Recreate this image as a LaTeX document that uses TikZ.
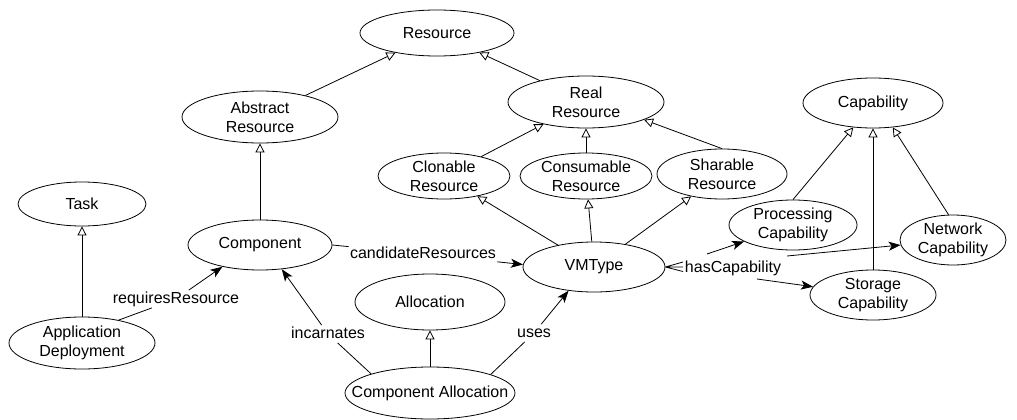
\documentclass[tikz,border=0pt]{standalone}
\usepackage{fontspec}
\setmainfont{Liberation Sans}
\usetikzlibrary{shapes.geometric,arrows.meta}
\begin{document}
\begin{tikzpicture}[x=1pt,y=-1pt,
  line width=0.8pt,
  every node/.style={font=\fontsize{16}{19}\selectfont},
  every label/.style={align=center, inner sep=0pt},
  cls/.style 2 args={draw, ellipse, inner sep=0pt, minimum width=#1, minimum height=#2},
  rel/.style={inner sep=1pt, text height=11.5pt, text depth=3.5pt},
  gen/.style={-{Triangle[open,length=9pt,width=9pt]}},
  assoc/.style={-{Stealth[length=12pt,width=9pt,inset=3pt]}}
]
\useasboundingbox (0,0) rectangle (1017,420);

% classes
\node[cls={154pt}{46pt}, label=center:Resource] (res) at (437,33) {};
\node[cls={156pt}{52pt}, label=center:Abstract\\Resource] (abs) at (260,117) {};
\node[cls={156pt}{52pt}, label=center:Real\\Resource] (real) at (586,102) {};
\node[cls={132pt}{46pt}, label=center:Clonable\\Resource] (clon) at (444,176) {};
\node[cls={132pt}{46pt}, label=center:Consumable\\Resource] (cons) at (586,176) {};
\node[cls={130pt}{50pt}, label=center:Sharable\\Resource] (shar) at (722,174) {};
\node[cls={140pt}{50pt}, label=center:Capability] (cap) at (873,103) {};
\node[cls={128pt}{44pt}, label=center:Task] (task) at (82,204) {};
\node[cls={144pt}{50pt}, label=center:Component] (comp) at (260,245) {};
\node[cls={146pt}{52pt}, label=center:Application\\Deployment] (app) at (82,343) {};
\node[cls={150pt}{56pt}, label=center:Allocation] (alloc) at (430,302) {};
\node[cls={170pt}{52pt}, label=center:Component Allocation] (ca) at (430,393) {};
\node[cls={142pt}{50pt}, label=center:VMType] (vm) at (594,267) {};
\node[cls={128pt}{50pt}, label=center:Processing\\Capability] (proc) at (793,225) {};
\node[cls={106pt}{50pt}, label=center:Network\\Capability] (net) at (953,240) {};
\node[cls={126pt}{50pt}, label=center:Storage\\Capability] (stor) at (873,295) {};

% association labels
\node[rel] (cr) at (423,254) {candidateResources};
\node[rel] (rr) at (176,299) {requiresResource};
\node[rel] (inc) at (328,334) {incarnates};
\node[rel] (uses) at (534,333) {uses};
\node[rel] (hc) at (733,268) {hasCapability};

% generalisations
\draw[gen] (abs) -- (res);
\draw[gen] (real) -- (res);
\draw[gen] (comp) -- (abs);
\draw[gen] (clon) -- (real);
\draw[gen] (cons) -- (real);
\draw[gen] (shar.north) -- (real.-17);
\draw[gen] (vm) -- (clon);
\draw[gen] (vm) -- (cons);
\draw[gen] (vm) -- (shar);
\draw[gen] (proc.north) -- (cap.231);
\draw[gen] (stor.north) -- (cap.south);
\draw[gen] (net.100) -- (cap.309);
\draw[gen] (app) -- (task);
\draw[gen] (ca) -- (alloc);

% associations
\draw (app.32) -- (rr);
\draw[assoc] (rr) -- (comp.210);
\draw (comp.east) -- (cr);
\draw[assoc] (cr) -- (vm.178);
\draw (ca.162) -- (inc);
\draw[assoc] (inc) -- (comp.-48);
\draw (ca.17) -- (uses);
\draw[assoc] (uses) -- (vm.223);

% hasCapability: fork at VMType, three targets
\coordinate (fa) at (683,262);
\coordinate (fb) at (683,267);
\coordinate (fc) at (683,271.5);
\draw (vm.east) -- (fa) (vm.east) -- (fb) (vm.east) -- (fc);
\coordinate (hcp) at (707,254);
\coordinate (hcn) at (787,256);
\coordinate (hcs) at (757,279);
\draw[assoc] (hcp) -- (proc);
\draw[assoc] (hcn) -- (net);
\draw[assoc] (hcs) -- (stor);
\end{tikzpicture}
\end{document}
